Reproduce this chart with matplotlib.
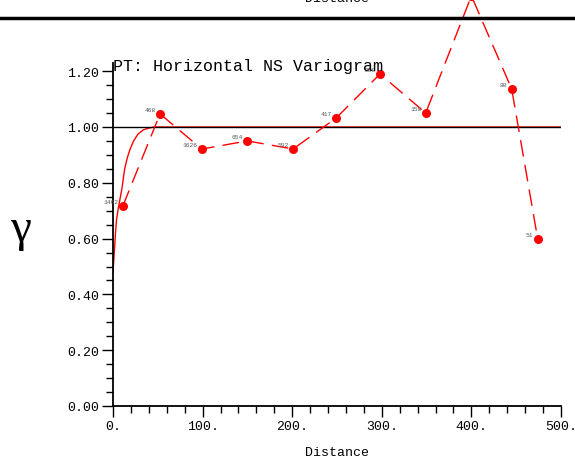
import matplotlib.pyplot as plt

# experimental variogram points (lag distance, gamma, number of pairs)
lag = [11, 52.5, 99, 150, 201, 249, 298, 349, 400, 445, 474]
gamma = [0.717, 1.047, 0.921, 0.950, 0.921, 1.032, 1.190, 1.050, 1.47, 1.136, 0.599]
npairs = ['1462', '468', '1626', '654', '592', '417', '208', '158', '112', '80', '51']

# fitted model curve
model_h = [0, 1, 2, 3, 4, 6, 8, 10, 13, 16, 19, 23, 28, 34, 40, 46, 500]
model_g = [0.48, 0.53, 0.58, 0.63, 0.67, 0.71, 0.745, 0.78, 0.85, 0.89, 0.92, 0.95,
           0.975, 0.99, 0.996, 1.0, 1.0]

sill = 1.0
yticks = [0.0, 0.2, 0.4, 0.6, 0.8, 1.0, 1.2]
xticks = [0, 100, 200, 300, 400, 500]

mono = 'Liberation Mono'

fig = plt.figure(figsize=(5.75, 4.64), dpi=100)
ax = fig.add_axes([113 / 575, 57 / 464, 448 / 575, 407 / 464])

ax.plot(model_h, model_g, color='red', lw=1.0)
ax.plot([0, 500], [sill, sill], color='black', lw=1.0)
ax.plot(lag, gamma, color='red', lw=1.0, dashes=(12, 6),
        marker='o', markersize=6.5, markeredgewidth=0)

for h, g, n in zip(lag, gamma, npairs):
    ax.annotate(n, (h, g), xytext=(-3, 1.5), textcoords='offset points',
                ha='right', va='bottom', fontsize=4.5, color='#555555',
                family=mono)

ax.set_xlim(0, 500)
ax.set_ylim(0, 407 / 279)

for s in ['top', 'right']:
    ax.spines[s].set_visible(False)
ax.spines['left'].set_bounds(0, 1.23)
ax.spines['bottom'].set_bounds(0, 500)
ax.spines['left'].set_linewidth(1.3)
ax.spines['bottom'].set_linewidth(1.3)

ax.set_xticks(xticks)
ax.set_xticklabels([f'{t}.' for t in xticks], family=mono, fontsize=9.5)
ax.set_xticks(range(0, 501, 20), minor=True)
ax.set_yticks(yticks)
ax.set_yticklabels([f'{t:.2f}' for t in yticks], family=mono, fontsize=9.5)
ax.set_yticks([i * 0.05 for i in range(25)], minor=True)
ax.tick_params(which='major', direction='out', length=8, width=1, pad=2)
ax.tick_params(which='minor', direction='out', length=5, width=1)

ax.text(0, 1.222, 'PT: Horizontal NS Variogram', family=mono, fontsize=12,
        ha='left', va='center')
ax.set_xlabel('Distance', family=mono, fontsize=9.5, labelpad=10)
fig.text(21 / 575, 1 - 230 / 464, '\u03b3', family='Liberation Serif',
         fontsize=34, ha='center', va='center')

# remains of the panel above (cropped)
fig.add_artist(plt.Line2D([0, 1], [1 - 19 / 464, 1 - 19 / 464],
                          color='black', lw=2.5, transform=fig.transFigure))
fig.text(337 / 575, 1 - 1.5 / 464, 'Distance', family=mono, fontsize=9.5,
         ha='center', va='baseline')

plt.savefig('out.png', dpi=100)
plt.close()
